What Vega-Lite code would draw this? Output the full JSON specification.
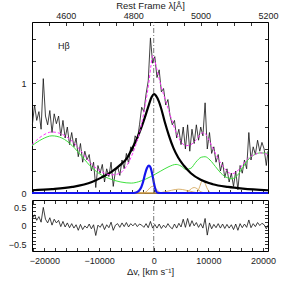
{
"$schema": "https://vega.github.io/schema/vega-lite/v6.json",
"padding": {"left": 7, "top": 0, "right": 3, "bottom": 1},
"background": "white",
"spacing": 0,
"config": {
  "view": {"stroke": "#000", "strokeWidth": 1},
  "axis": {"labelFont": "Liberation Sans", "labelFontSize": 9, "labelColor": "#222", "titleFont": "Liberation Sans", "titleFontSize": 9.5, "titleFontWeight": "normal", "titleColor": "#222", "tickColor": "#000", "tickSize": -3.5, "tickWidth": 0.8, "labelPadding": 9.5, "domain": false, "grid": false, "labelFlush": false, "labelOverlap": false}
},
"datasets": {
  "spec": [
    {"v":-22200,"f":0.62,"r":0.20},{"v":-21800,"f":0.80,"r":0.30},{"v":-21400,"f":0.66,"r":0.15},{"v":-21000,"f":0.74,"r":0.25},{"v":-20600,"f":0.58,"r":0.10},
    {"v":-20200,"f":1.04,"r":0.50},{"v":-19800,"f":0.70,"r":0.18},{"v":-19400,"f":0.62,"r":0.08},{"v":-19000,"f":0.75,"r":0.22},{"v":-18600,"f":0.55,"r":0.02},
    {"v":-18200,"f":0.72,"r":0.18},{"v":-17800,"f":0.63,"r":0.08},{"v":-17400,"f":0.70,"r":0.15},{"v":-17000,"f":0.52,"r":-0.02},{"v":-16600,"f":0.66,"r":0.12},
    {"v":-16200,"f":0.50,"r":-0.03},{"v":-15800,"f":0.60,"r":0.08},{"v":-15400,"f":0.44,"r":-0.05},{"v":-15000,"f":0.55,"r":0.06},{"v":-14600,"f":0.42,"r":-0.06},
    {"v":-14200,"f":0.50,"r":0.03},{"v":-13800,"f":0.33,"r":-0.12},{"v":-13400,"f":0.45,"r":0.04},{"v":-13000,"f":0.28,"r":-0.10},{"v":-12600,"f":0.38,"r":0.00},
    {"v":-12200,"f":0.30,"r":-0.06},{"v":-11800,"f":0.35,"r":0.05},{"v":-11400,"f":0.20,"r":-0.08},{"v":-11000,"f":0.28,"r":0.03},{"v":-10600,"f":0.05,"r":-0.26},
    {"v":-10200,"f":0.25,"r":0.02},{"v":-9800,"f":0.18,"r":-0.04},{"v":-9400,"f":0.26,"r":0.06},{"v":-9000,"f":0.10,"r":-0.10},{"v":-8600,"f":0.22,"r":0.03},
    {"v":-8200,"f":0.15,"r":-0.05},{"v":-7800,"f":0.28,"r":0.10},{"v":-7400,"f":0.06,"r":-0.12},{"v":-7000,"f":0.20,"r":0.02},{"v":-6600,"f":0.24,"r":0.06},
    {"v":-6200,"f":0.16,"r":-0.04},{"v":-5800,"f":0.30,"r":0.08},{"v":-5400,"f":0.22,"r":-0.02},{"v":-5000,"f":0.36,"r":0.09},{"v":-4600,"f":0.27,"r":-0.03},
    {"v":-4200,"f":0.42,"r":0.06},{"v":-3800,"f":0.38,"r":0.00},{"v":-3400,"f":0.52,"r":0.07},{"v":-3000,"f":0.48,"r":-0.02},{"v":-2600,"f":0.62,"r":0.05},
    {"v":-2200,"f":0.78,"r":0.02},{"v":-1800,"f":0.74,"r":-0.04},{"v":-1400,"f":0.90,"r":0.06},{"v":-1000,"f":1.02,"r":-0.05},{"v":-600,"f":1.41,"r":0.12},
    {"v":-200,"f":1.18,"r":-0.06},{"v":200,"f":1.24,"r":0.04},{"v":600,"f":1.05,"r":-0.06},{"v":1000,"f":1.12,"r":0.05},{"v":1400,"f":0.92,"r":-0.07},
    {"v":1800,"f":0.95,"r":0.02},{"v":2200,"f":0.80,"r":-0.05},{"v":2600,"f":0.85,"r":0.06},{"v":3000,"f":0.70,"r":-0.03},{"v":3400,"f":0.62,"r":-0.08},
    {"v":3800,"f":0.66,"r":0.05},{"v":4200,"f":0.50,"r":-0.06},{"v":4600,"f":0.58,"r":0.07},{"v":5000,"f":0.44,"r":-0.03},{"v":5400,"f":0.60,"r":0.18},
    {"v":5800,"f":0.40,"r":-0.04},{"v":6200,"f":0.62,"r":0.20},{"v":6600,"f":0.38,"r":-0.02},{"v":7000,"f":0.58,"r":0.14},{"v":7400,"f":0.45,"r":0.00},
    {"v":7800,"f":0.62,"r":0.09},{"v":8200,"f":0.48,"r":-0.04},{"v":8600,"f":0.60,"r":0.06},{"v":9000,"f":0.52,"r":-0.06},{"v":9400,"f":0.82,"r":0.20},
    {"v":9800,"f":0.40,"r":-0.25},{"v":10200,"f":0.55,"r":0.08},{"v":10600,"f":0.36,"r":-0.08},{"v":11000,"f":0.42,"r":0.04},{"v":11400,"f":0.28,"r":-0.05},
    {"v":11800,"f":0.35,"r":0.06},{"v":12200,"f":0.20,"r":-0.06},{"v":12600,"f":0.28,"r":0.05},{"v":13000,"f":0.14,"r":-0.07},{"v":13400,"f":0.22,"r":0.04},
    {"v":13800,"f":0.10,"r":-0.06},{"v":14200,"f":0.18,"r":0.03},{"v":14600,"f":0.06,"r":-0.10},{"v":15000,"f":0.20,"r":0.05},{"v":15400,"f":0.03,"r":-0.12},
    {"v":15800,"f":0.25,"r":0.06},{"v":16200,"f":0.18,"r":-0.05},{"v":16600,"f":0.30,"r":0.05},{"v":17000,"f":0.22,"r":-0.04},{"v":17400,"f":0.55,"r":0.16},
    {"v":17800,"f":0.30,"r":-0.05},{"v":18200,"f":0.42,"r":0.06},{"v":18600,"f":0.35,"r":-0.02},{"v":19000,"f":0.48,"r":0.09},{"v":19400,"f":0.38,"r":0.01},
    {"v":19800,"f":0.46,"r":0.07},{"v":20200,"f":0.40,"r":0.03},{"v":20600,"f":0.25,"r":-0.08},{"v":20900,"f":0.38,"r":0.02}
  ],
  "green": [
    {"v":-22264,"f":0.43},{"v":-20400,"f":0.49},{"v":-18600,"f":0.52},{"v":-16800,"f":0.50},{"v":-14900,"f":0.43},{"v":-13100,"f":0.33},
    {"v":-11300,"f":0.23},{"v":-9600,"f":0.165},{"v":-7800,"f":0.125},{"v":-6000,"f":0.10},{"v":-4100,"f":0.09},{"v":-2300,"f":0.11},
    {"v":-500,"f":0.15},{"v":1300,"f":0.20},{"v":2800,"f":0.24},{"v":4100,"f":0.26},{"v":5000,"f":0.245},{"v":5900,"f":0.215},
    {"v":6800,"f":0.225},{"v":7700,"f":0.28},{"v":8700,"f":0.325},{"v":9400,"f":0.33},{"v":10300,"f":0.30},{"v":11300,"f":0.24},
    {"v":12300,"f":0.18},{"v":13400,"f":0.14},{"v":14300,"f":0.13},{"v":15300,"f":0.16},{"v":16400,"f":0.24},{"v":17400,"f":0.31},
    {"v":18500,"f":0.35},{"v":19500,"f":0.365},{"v":20907,"f":0.36}
  ],
  "broad": [
    {"v":-22264,"f":0.025},{"v":-18600,"f":0.035},{"v":-14900,"f":0.055},{"v":-11300,"f":0.10},{"v":-9600,"f":0.14},{"v":-7800,"f":0.19},
    {"v":-6000,"f":0.26},{"v":-5000,"f":0.31},{"v":-4100,"f":0.39},{"v":-3200,"f":0.48},{"v":-2300,"f":0.59},{"v":-1600,"f":0.69},
    {"v":-900,"f":0.80},{"v":-400,"f":0.87},{"v":100,"f":0.90},{"v":600,"f":0.87},{"v":1300,"f":0.78},{"v":2000,"f":0.65},
    {"v":2800,"f":0.52},{"v":3600,"f":0.41},{"v":4500,"f":0.32},{"v":5500,"f":0.25},{"v":6800,"f":0.18},{"v":8600,"f":0.12},
    {"v":10800,"f":0.08},{"v":13600,"f":0.055},{"v":16300,"f":0.04},{"v":20907,"f":0.025}
  ],
  "narrow": [
    {"v":-22264,"f":0},{"v":-4100,"f":0},{"v":-3200,"f":0.005},{"v":-2700,"f":0.02},{"v":-2300,"f":0.05},{"v":-1950,"f":0.10},
    {"v":-1600,"f":0.17},{"v":-1250,"f":0.225},{"v":-900,"f":0.25},{"v":-600,"f":0.235},{"v":-300,"f":0.18},{"v":0,"f":0.10},
    {"v":300,"f":0.035},{"v":600,"f":0.005},{"v":900,"f":0},{"v":20907,"f":0}
  ],
  "tan": [
    {"c":"a","v":-22264,"f":0},{"c":"a","v":-1900,"f":0},{"c":"a","v":-1400,"f":0.01},{"c":"a","v":-900,"f":0.035},{"c":"a","v":-500,"f":0.055},{"c":"a","v":-200,"f":0.06},{"c":"a","v":100,"f":0.055},{"c":"a","v":500,"f":0.035},{"c":"a","v":1000,"f":0.01},{"c":"a","v":1500,"f":0},{"c":"a","v":20907,"f":0},
    {"c":"b","v":-22264,"f":0},{"c":"b","v":700,"f":0},{"c":"b","v":2000,"f":0.01},{"c":"b","v":3300,"f":0.025},{"c":"b","v":4600,"f":0.035},{"c":"b","v":5900,"f":0.025},{"c":"b","v":7200,"f":0.01},{"c":"b","v":8500,"f":0},{"c":"b","v":20907,"f":0},
    {"c":"c","v":-22264,"f":0},{"c":"c","v":5200,"f":0},{"c":"c","v":6300,"f":0.015},{"c":"c","v":6900,"f":0.04},{"c":"c","v":7400,"f":0.05},{"c":"c","v":7900,"f":0.04},{"c":"c","v":8500,"f":0.015},{"c":"c","v":9600,"f":0},{"c":"c","v":20907,"f":0},
    {"c":"d","v":-22264,"f":0},{"c":"d","v":7600,"f":0},{"c":"d","v":8100,"f":0.02},{"c":"d","v":8500,"f":0.07},{"c":"d","v":8850,"f":0.115},{"c":"d","v":9000,"f":0.12},{"c":"d","v":9300,"f":0.10},{"c":"d","v":9700,"f":0.05},{"c":"d","v":10100,"f":0.015},{"c":"d","v":10600,"f":0},{"c":"d","v":20907,"f":0}
  ],
  "model": [
    {"v":-22264,"f":0.44},{"v":-20400,"f":0.52},{"v":-18600,"f":0.555},{"v":-16800,"f":0.535},{"v":-14900,"f":0.47},{"v":-13100,"f":0.37},
    {"v":-11300,"f":0.26},{"v":-9600,"f":0.195},{"v":-7800,"f":0.165},{"v":-6400,"f":0.175},{"v":-5100,"f":0.235},{"v":-4100,"f":0.33},
    {"v":-3200,"f":0.45},{"v":-2300,"f":0.61},{"v":-1600,"f":0.79},{"v":-900,"f":1.0},{"v":-500,"f":1.16},{"v":-200,"f":1.25},
    {"v":100,"f":1.22},{"v":600,"f":1.12},{"v":1300,"f":0.98},{"v":2300,"f":0.82},{"v":3200,"f":0.68},{"v":4100,"f":0.55},
    {"v":5000,"f":0.465},{"v":5900,"f":0.43},{"v":6800,"f":0.44},{"v":7700,"f":0.48},{"v":8700,"f":0.54},{"v":9200,"f":0.55},
    {"v":9900,"f":0.50},{"v":10900,"f":0.40},{"v":11800,"f":0.31},{"v":12700,"f":0.24},{"v":13600,"f":0.19},{"v":14300,"f":0.175},
    {"v":15300,"f":0.20},{"v":16300,"f":0.26},{"v":17400,"f":0.32},{"v":18500,"f":0.35},{"v":19500,"f":0.365},{"v":20200,"f":0.36},{"v":20907,"f":0.35}
  ],
  "vline": [{"v":0,"f":0,"f2":1.555}],
  "rline": [{"v":0,"r":-0.68,"r2":0.70}],
  "label": [{"v":-17500,"f":1.336,"t":"Hβ"}],
  "lam": [{"lam":4500,"f":0},{"lam":5200,"f":0}],
  "edge": [{"v":-22264,"r":0},{"v":20907,"r":0}]
},
"vconcat": [
  {
    "width": 236, "height": 171,
    "layer": [
      {
        "encoding": {
          "x": {"field":"v","type":"quantitative","scale":{"domain":[-22264,20907],"nice":false,"zero":false},
                "axis":{"orient":"bottom","values":[-22000,-20000,-18000,-16000,-14000,-12000,-10000,-8000,-6000,-4000,-2000,0,2000,4000,6000,8000,10000,12000,14000,16000,18000,20000],"labels":false,"title":null}},
          "y": {"field":"f","type":"quantitative","scale":{"domain":[0,1.555],"nice":false,"zero":false},
                "axis":{"orient":"left","values":[0,0.2,0.4,0.6,0.8,1,1.2,1.4],"labelExpr":"datum.value == 0 ? '0' : (datum.value == 1 ? '1' : '')","title":null}}
        },
        "layer": [
          {"data":{"name":"spec"},"mark":{"type":"line","color":"#111","strokeWidth":0.8}},
          {"data":{"name":"green"},"mark":{"type":"line","color":"#3ee03e","strokeWidth":1,"interpolate":"monotone"}},
          {"data":{"name":"tan"},"mark":{"type":"line","color":"#d1a04c","strokeWidth":0.8,"interpolate":"monotone"},"encoding":{"detail":{"field":"c","type":"nominal"}}},
          {"data":{"name":"broad"},"mark":{"type":"line","color":"#000","strokeWidth":2.2,"interpolate":"monotone"}},
          {"data":{"name":"narrow"},"mark":{"type":"line","color":"#1515ee","strokeWidth":2.2,"interpolate":"monotone"}},
          {"data":{"name":"model"},"mark":{"type":"line","color":"#ff33ff","strokeWidth":1,"strokeDash":[3,2],"interpolate":"monotone"}},
          {"data":{"name":"vline"},"mark":{"type":"rule","color":"#555","strokeWidth":0.8,"strokeDash":[5,2,1,2]},"encoding":{"y2":{"field":"f2"}}},
          {"data":{"name":"label"},"mark":{"type":"text","align":"left","baseline":"middle","font":"Liberation Sans","fontSize":9,"color":"#222"},"encoding":{"text":{"field":"t","type":"nominal"}}}
        ]
      },
      {
        "data":{"name":"lam"},
        "mark":{"type":"point","opacity":0},
        "encoding": {
          "x": {"field":"lam","type":"quantitative","scale":{"domain":[4500,5200],"nice":false,"zero":false},
                "axis":{"orient":"top","values":[4500,4550,4600,4650,4700,4750,4800,4850,4900,4950,5000,5050,5100,5150,5200],"format":"d","labelExpr":"datum.value % 200 == 0 ? datum.label : ''","title":"Rest Frame λ[Å]","titlePadding":0.5,"labelPadding":5.5}},
          "y": {"field":"f","type":"quantitative","scale":{"domain":[0,1.555],"nice":false,"zero":false},
                "axis":{"orient":"right","values":[0,0.2,0.4,0.6,0.8,1,1.2,1.4],"labels":false,"title":null}}
        }
      }
    ],
    "resolve": {"scale":{"x":"independent"},"axis":{"x":"independent","y":"independent"}}
  },
  {
    "width": 236, "height": 51,
    "layer": [
      {
        "encoding": {
          "x": {"field":"v","type":"quantitative","scale":{"domain":[-22264,20907],"nice":false,"zero":false},
                "axis":{"orient":"bottom","values":[-22000,-20000,-18000,-16000,-14000,-12000,-10000,-8000,-6000,-4000,-2000,0,2000,4000,6000,8000,10000,12000,14000,16000,18000,20000],"labelExpr":"datum.value % 10000 == 0 ? (datum.value < 0 ? '−' + abs(datum.value) : '' + datum.value) : ''","title":"Δv, [km s⁻¹]","titlePadding":1,"labelPadding":8.5}},
          "y": {"field":"r","type":"quantitative","scale":{"domain":[-0.68,0.70],"nice":false,"zero":false},
                "axis":{"orient":"left","values":[-0.6,-0.5,-0.4,-0.3,-0.2,-0.1,0,0.1,0.2,0.3,0.4,0.5,0.6],"labelExpr":"datum.value == 0.5 ? '0.5' : (datum.value == 0 ? '0' : (datum.value == -0.5 ? '−0.5' : ''))","title":null}}
        },
        "layer": [
          {"data":{"name":"spec"},"mark":{"type":"line","color":"#111","strokeWidth":0.8}},
          {"data":{"name":"rline"},"mark":{"type":"rule","color":"#555","strokeWidth":0.8,"strokeDash":[5,2,1,2]},"encoding":{"y2":{"field":"r2"}}}
        ]
      },
      {
        "data":{"name":"edge"},
        "mark":{"type":"point","opacity":0},
        "encoding": {
          "x": {"field":"v","type":"quantitative","scale":{"domain":[-22264,20907],"nice":false,"zero":false},
                "axis":{"orient":"top","values":[-22000,-20000,-18000,-16000,-14000,-12000,-10000,-8000,-6000,-4000,-2000,0,2000,4000,6000,8000,10000,12000,14000,16000,18000,20000],"labels":false,"title":null}},
          "y": {"field":"r","type":"quantitative","scale":{"domain":[-0.68,0.70],"nice":false,"zero":false},
                "axis":{"orient":"right","values":[-0.6,-0.5,-0.4,-0.3,-0.2,-0.1,0,0.1,0.2,0.3,0.4,0.5,0.6],"labels":false,"title":null}}
        }
      }
    ],
    "resolve": {"axis":{"x":"independent","y":"independent"}}
  }
]
}
